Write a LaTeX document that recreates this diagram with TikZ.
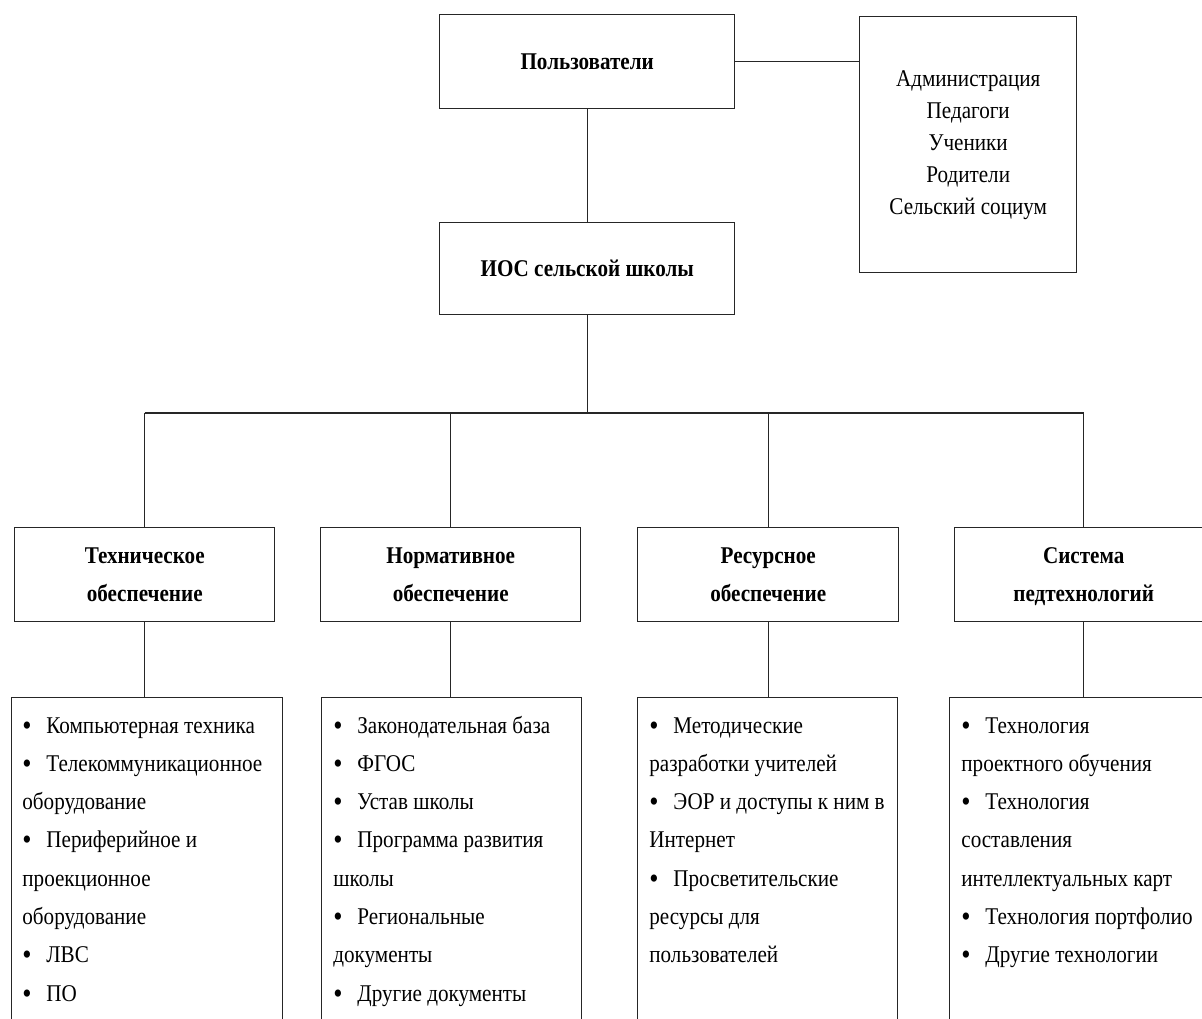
\documentclass[tikz,border=0pt]{standalone}
\usepackage{fontspec}
\setmainfont[FakeStretch=0.88]{Liberation Serif}
\newcommand{\bul}{\makebox[12pt][l]{\raisebox{-1pt}{\fontsize{15}{15}\selectfont\textbullet}}}
\begin{document}
\begin{tikzpicture}[x=0.5pt,y=-0.5pt,
  box/.style={draw=black!85, line width=0.7pt, inner sep=0pt, anchor=north west},
  bold/.style={font=\fontsize{12}{19}\selectfont\bfseries, align=center},
  plain/.style={font=\fontsize{12}{16}\selectfont, align=center},
  itemtext/.style={inner sep=0pt, anchor=base west, font=\fontsize{12}{19.15}\selectfont},
  conn/.style={draw=black!85, line width=0.7pt}]
\useasboundingbox (0,0) rectangle (1202,1018);
\clip (0,0) rectangle (1202,1018);

% top level
\node[box, bold, minimum width=0.5pt*295, minimum height=0.5pt*94] (users) at (439,14) {Пользователи};
\node[box, bold, minimum width=0.5pt*295, minimum height=0.5pt*92] (ios) at (439,222) {ИОС сельской школы};
\node[box, plain, minimum width=0.5pt*217, minimum height=0.5pt*256] (groups) at (859,16)
  {Администрация\\Педагоги\\Ученики\\Родители\\Сельский социум};

% second level headers
\node[box, bold, minimum width=0.5pt*260, minimum height=0.5pt*94] (h1) at (14,527) {Техническое\\обеспечение};
\node[box, bold, minimum width=0.5pt*260, minimum height=0.5pt*94] (h2) at (320,527) {Нормативное\\обеспечение};
\node[box, bold, minimum width=0.5pt*261, minimum height=0.5pt*94] (h3) at (637,527) {Ресурсное\\обеспечение};
\node[box, bold, minimum width=0.5pt*258, minimum height=0.5pt*94] (h4) at (954,527) {\strut Система\\\strut педтехнологий};

% detail boxes
\node[box, minimum width=0.5pt*271, minimum height=0.5pt*340] (d1) at (11,697) {};
\node[box, minimum width=0.5pt*260, minimum height=0.5pt*340] (d2) at (321,697) {};
\node[box, minimum width=0.5pt*260, minimum height=0.5pt*340] (d3) at (637,697) {};
\node[box, minimum width=0.5pt*268, minimum height=0.5pt*340] (d4) at (949,697) {};

\node[itemtext] (t1) at (22,733) {\parbox[t]{150pt}{%
\bul Компьютерная техника\\
\bul Телекоммуникационное\\
оборудование\\
\bul Периферийное и\\
проекционное\\
оборудование\\
\bul ЛВС\\
\bul ПО}};
\node[itemtext] (t2) at (333,733) {\parbox[t]{150pt}{%
\bul Законодательная база\\
\bul ФГОС\\
\bul Устав школы\\
\bul Программа развития\\
школы\\
\bul Региональные\\
документы\\
\bul Другие документы}};
\node[itemtext] (t3) at (649,733) {\parbox[t]{150pt}{%
\bul Методические\\
разработки учителей\\
\bul ЭОР и доступы к ним в\\
Интернет\\
\bul Просветительские\\
ресурсы для\\
пользователей}};
\node[itemtext] (t4) at (961,733) {\parbox[t]{150pt}{%
\bul Технология\\
проектного обучения\\
\bul Технология\\
составления\\
интеллектуальных карт\\
\bul Технология портфолио\\
\bul Другие технологии}};

% connectors
\coordinate (bus) at (586,413);
\draw[conn] (users.east) -- (users.east -| groups.west);
\draw[conn] (users.south) -- (ios.north);
\draw[conn] (ios.south) -- (ios.south |- bus);
\draw[conn] (h1.north |- bus) -- (h4.north |- bus);
\draw[conn] (h1.north |- bus) -- (h1.north);
\draw[conn] (h2.north |- bus) -- (h2.north);
\draw[conn] (h3.north |- bus) -- (h3.north);
\draw[conn] (h4.north |- bus) -- (h4.north);
\draw[conn] (h1.south) -- (h1.south |- d1.north);
\draw[conn] (h2.south) -- (h2.south |- d2.north);
\draw[conn] (h3.south) -- (h3.south |- d3.north);
\draw[conn] (h4.south) -- (h4.south |- d4.north);
\end{tikzpicture}
\end{document}
